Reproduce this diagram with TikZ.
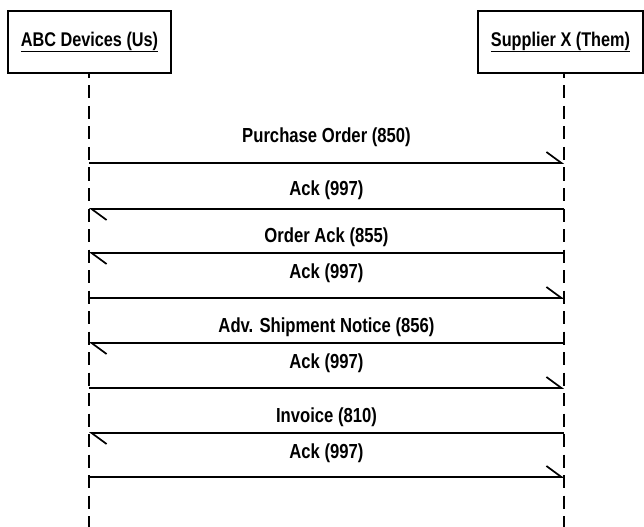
\documentclass[tikz,border=0pt]{standalone}
\usepackage{fontspec}
\setmainfont{Liberation Sans}[FakeStretch=0.82]
\usetikzlibrary{arrows.meta}
\tikzset{
  actor/.style={draw, line width=1.5bp, minimum width=163bp, minimum height=62bp, inner sep=0pt, font=\bfseries\fontsize{19.9}{22}\selectfont},
  lifeline/.style={line width=1.5bp, dash pattern=on 13bp off 7.5bp, dash phase=8bp},
  msg/.style={line width=1.5bp, -{Straight Barb[harpoon, length=15bp, width=22bp, line width=1.7bp]}},
  lbl/.style={anchor=base, inner sep=0pt, font=\bfseries\fontsize{20.4}{22}\selectfont},
}
\begin{document}
\begin{tikzpicture}[x=1bp, y=-1bp]
\useasboundingbox (0,0) rectangle (644,527);
\node[actor] (us) at (89.5,42) {\underline{ABC Devices (Us)}};
\node[actor, minimum width=165bp] (them) at (560.5,42) {\underline{Supplier X (Them)}};
\coordinate (usTop) at (89,73);
\coordinate (themTop) at (564,73);
\coordinate (usEnd) at (89,527);
\coordinate (themEnd) at (564,527);
\draw[lifeline] (usTop) -- (usEnd);
\draw[lifeline] (themTop) -- (themEnd);
\foreach \i/\y in {1/163,2/209,3/253,4/298,5/343,6/388,7/433,8/477}{
  \coordinate (u\i) at (89,\y);
  \coordinate (t\i) at (564,\y);
}
\draw[msg] (u1) -- (t1);
\draw[msg] (t2) -- (u2);
\draw[msg] (t3) -- (u3);
\draw[msg] (u4) -- (t4);
\draw[msg] (t5) -- (u5);
\draw[msg] (u6) -- (t6);
\draw[msg] (t7) -- (u7);
\draw[msg] (u8) -- (t8);
\node[lbl] (l1) at (326.5,142.5) {Purchase Order (850)};
\node[lbl] (l2) at (326.5,196) {Ack (997)};
\node[lbl] (l3) at (326.5,243) {Order Ack (855)};
\node[lbl] (l4) at (326.5,278) {Ack (997)};
\node[lbl] (l5) at (326.5,332) {Adv. Shipment Notice (856)};
\node[lbl] (l6) at (326.5,368) {Ack (997)};
\node[lbl] (l7) at (326.5,422) {Invoice (810)};
\node[lbl] (l8) at (326.5,458) {Ack (997)};
\end{tikzpicture}
\end{document}
